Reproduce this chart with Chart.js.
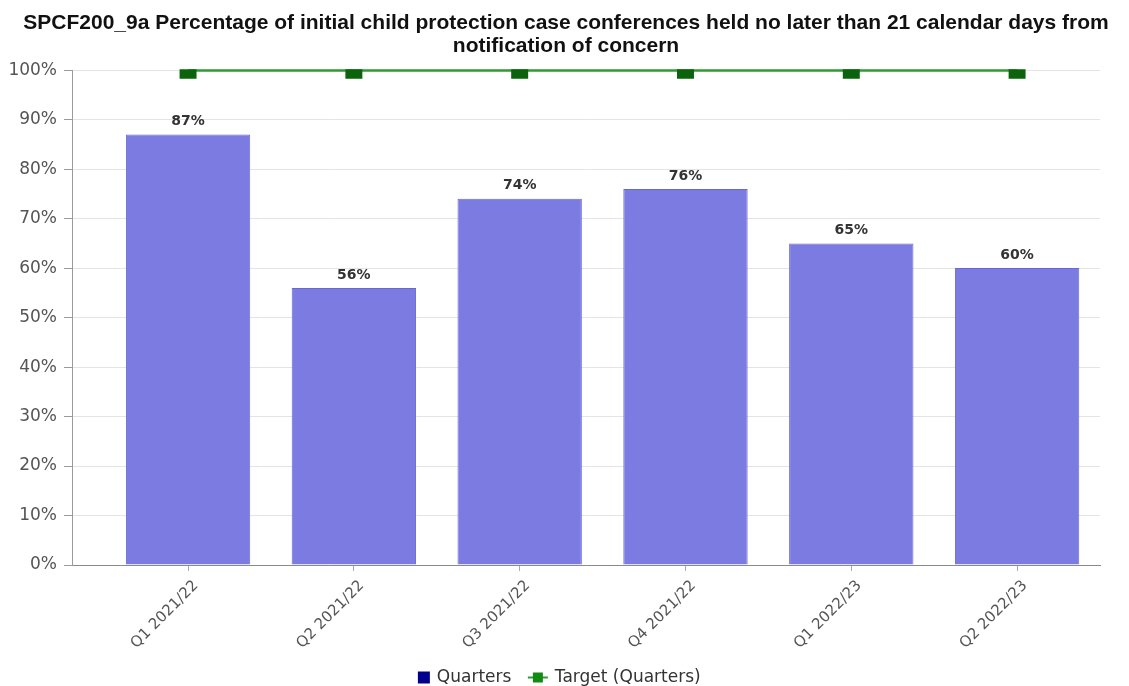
<!DOCTYPE html>
<html>
<head>
<meta charset="utf-8">
<title>SPCF200_9a</title>
<script src="https://cdn.jsdelivr.net/npm/chart.js@4.4.1/dist/chart.umd.min.js"></script>
<style>
  html, body { margin: 0; padding: 0; background: #fff; }
  #wrap { width: 1129px; height: 686px; }
</style>
</head>
<body>
<div id="wrap"><canvas id="chart" width="1129" height="686"></canvas></div>
<script>
// chart data
const quarters = ['Q1 2021/22', 'Q2 2021/22', 'Q3 2021/22', 'Q4 2021/22', 'Q1 2022/23', 'Q2 2022/23'];
const quarterValues = [87, 56, 74, 76, 65, 60];
const targetValues = [100, 100, 100, 100, 100, 100];
const yTicks = [0, 10, 20, 30, 40, 50, 60, 70, 80, 90, 100];

const titleLines = [
    'SPCF200_9a Percentage of initial child protection case conferences held no later than 21 calendar days from',
    'notification of concern'
];

// little legend icons
function makeIcon(w, h, draw) {
    const c = document.createElement('canvas');
    c.width = w;
    c.height = h;
    draw(c.getContext('2d'));
    return c;
}
// square sits a bit right of the icon centre so the text is closer
const barIcon = makeIcon(22, 14, g => {
    g.fillStyle = '#00008f';
    g.fillRect(9, 1, 12, 12);
});
const lineIcon = makeIcon(22, 14, g => {
    g.strokeStyle = '#2f9a2f';
    g.lineWidth = 2;
    g.beginPath();
    g.moveTo(1, 7);
    g.lineTo(21, 7);
    g.stroke();
    g.fillStyle = '#138a13';
    g.fillRect(6, 2, 10, 10);
});

// draws "87%" etc above each bar
const valueLabels = {
    id: 'valueLabels',
    afterDatasetsDraw(chart) {
        const meta = chart.getDatasetMeta(0);
        const ctx = chart.ctx;
        ctx.save();
        ctx.font = 'bold 14px "DejaVu Sans"';
        ctx.fillStyle = '#333';
        ctx.textAlign = 'center';
        ctx.textBaseline = 'bottom';
        meta.data.forEach((bar, i) => {
            ctx.fillText(quarterValues[i] + '%', bar.x, bar.y - 6);
        });
        ctx.restore();
    }
};

// title is centred on the whole canvas, not on the padded area; legend a touch right
const nudgeBoxes = {
    id: 'nudgeBoxes',
    afterLayout(chart) {
        if (chart.titleBlock) {
            chart.titleBlock.left += 16;
            chart.titleBlock.right += 16;
        }
        if (chart.legend) {
            chart.legend.left += 6;
            chart.legend.right += 6;
        }
    }
};

Chart.defaults.font.family = '"DejaVu Sans", Verdana, sans-serif';
Chart.defaults.color = '#555';

const ctx = document.getElementById('chart').getContext('2d');
const chart = new Chart(ctx, {
    type: 'bar',
    data: {
        datasets: [
            {
                type: 'bar',
                label: 'Quarters',
                data: quarterValues.map((v, i) => ({ x: i, y: v })),
                backgroundColor: '#7b7be2',
                borderColor: '#6868d4',
                borderWidth: 1,
                categoryPercentage: 1,
                barPercentage: 0.75
            },
            {
                type: 'line',
                label: 'Target (Quarters)',
                data: targetValues.map((v, i) => ({ x: i, y: v })),
                borderColor: '#2f9a2f',
                borderWidth: 3,
                pointStyle: 'rect',
                pointRadius: 12,
                pointHoverRadius: 12,
                pointBackgroundColor: '#0b640b',
                pointBorderColor: '#0b640b',
                pointBorderWidth: 0,
                clip: { left: false, right: false, top: 1, bottom: false }
            }
        ]
    },
    options: {
        responsive: false,
        animation: false,
        layout: {
            padding: { left: 0, right: 29, top: 0, bottom: 0 }
        },
        scales: {
            x: {
                type: 'linear',
                min: -0.7,
                max: 5.5,
                offset: false,
                afterBuildTicks: axis => {
                    axis.ticks = quarters.map((q, i) => ({ value: i }));
                },
                afterFit: axis => { axis.height = 86; },
                border: { display: true, color: '#8a8a8a', width: 1 },
                grid: {
                    offset: false,
                    drawOnChartArea: false,
                    drawTicks: true,
                    tickLength: 6,
                    tickColor: '#aaa'
                },
                ticks: {
                    autoSkip: false,
                    minRotation: 45,
                    maxRotation: 45,
                    padding: 6,
                    labelOffset: 8,
                    color: '#555',
                    font: { size: 15 },
                    callback: v => quarters[v]
                }
            },
            y: {
                min: 0,
                max: 100,
                afterBuildTicks: axis => {
                    axis.ticks = yTicks.map(v => ({ value: v }));
                },
                afterFit: axis => { axis.width = 72; },
                border: { display: true, color: '#9a9a9a', width: 1 },
                grid: {
                    color: '#e4e4e4',
                    tickColor: '#9a9a9a',
                    tickLength: 8
                },
                ticks: {
                    color: '#555',
                    font: { size: 17 },
                    padding: 7,
                    callback: v => v + '%'
                }
            }
        },
        plugins: {
            title: {
                display: true,
                text: titleLines,
                color: '#111',
                font: { family: '"Liberation Sans", Arial, sans-serif', size: 21, weight: 'bold', lineHeight: 1.1 },
                padding: { top: 12, bottom: 12 }
            },
            legend: {
                position: 'bottom',
                maxHeight: 35,
                labels: {
                    usePointStyle: true,
                    color: '#333',
                    font: { size: 17 },
                    padding: 18,
                    generateLabels: () => [
                        { text: 'Quarters', pointStyle: barIcon, datasetIndex: 0, fontColor: '#333', lineWidth: 0, strokeStyle: 'transparent', fillStyle: '#00008f' },
                        { text: 'Target (Quarters)', pointStyle: lineIcon, datasetIndex: 1, fontColor: '#333', lineWidth: 0, strokeStyle: 'transparent', fillStyle: '#138a13' }
                    ]
                }
            },
            tooltip: { enabled: false }
        }
    },
    plugins: [valueLabels, nudgeBoxes]
});
</script>
</body>
</html>
